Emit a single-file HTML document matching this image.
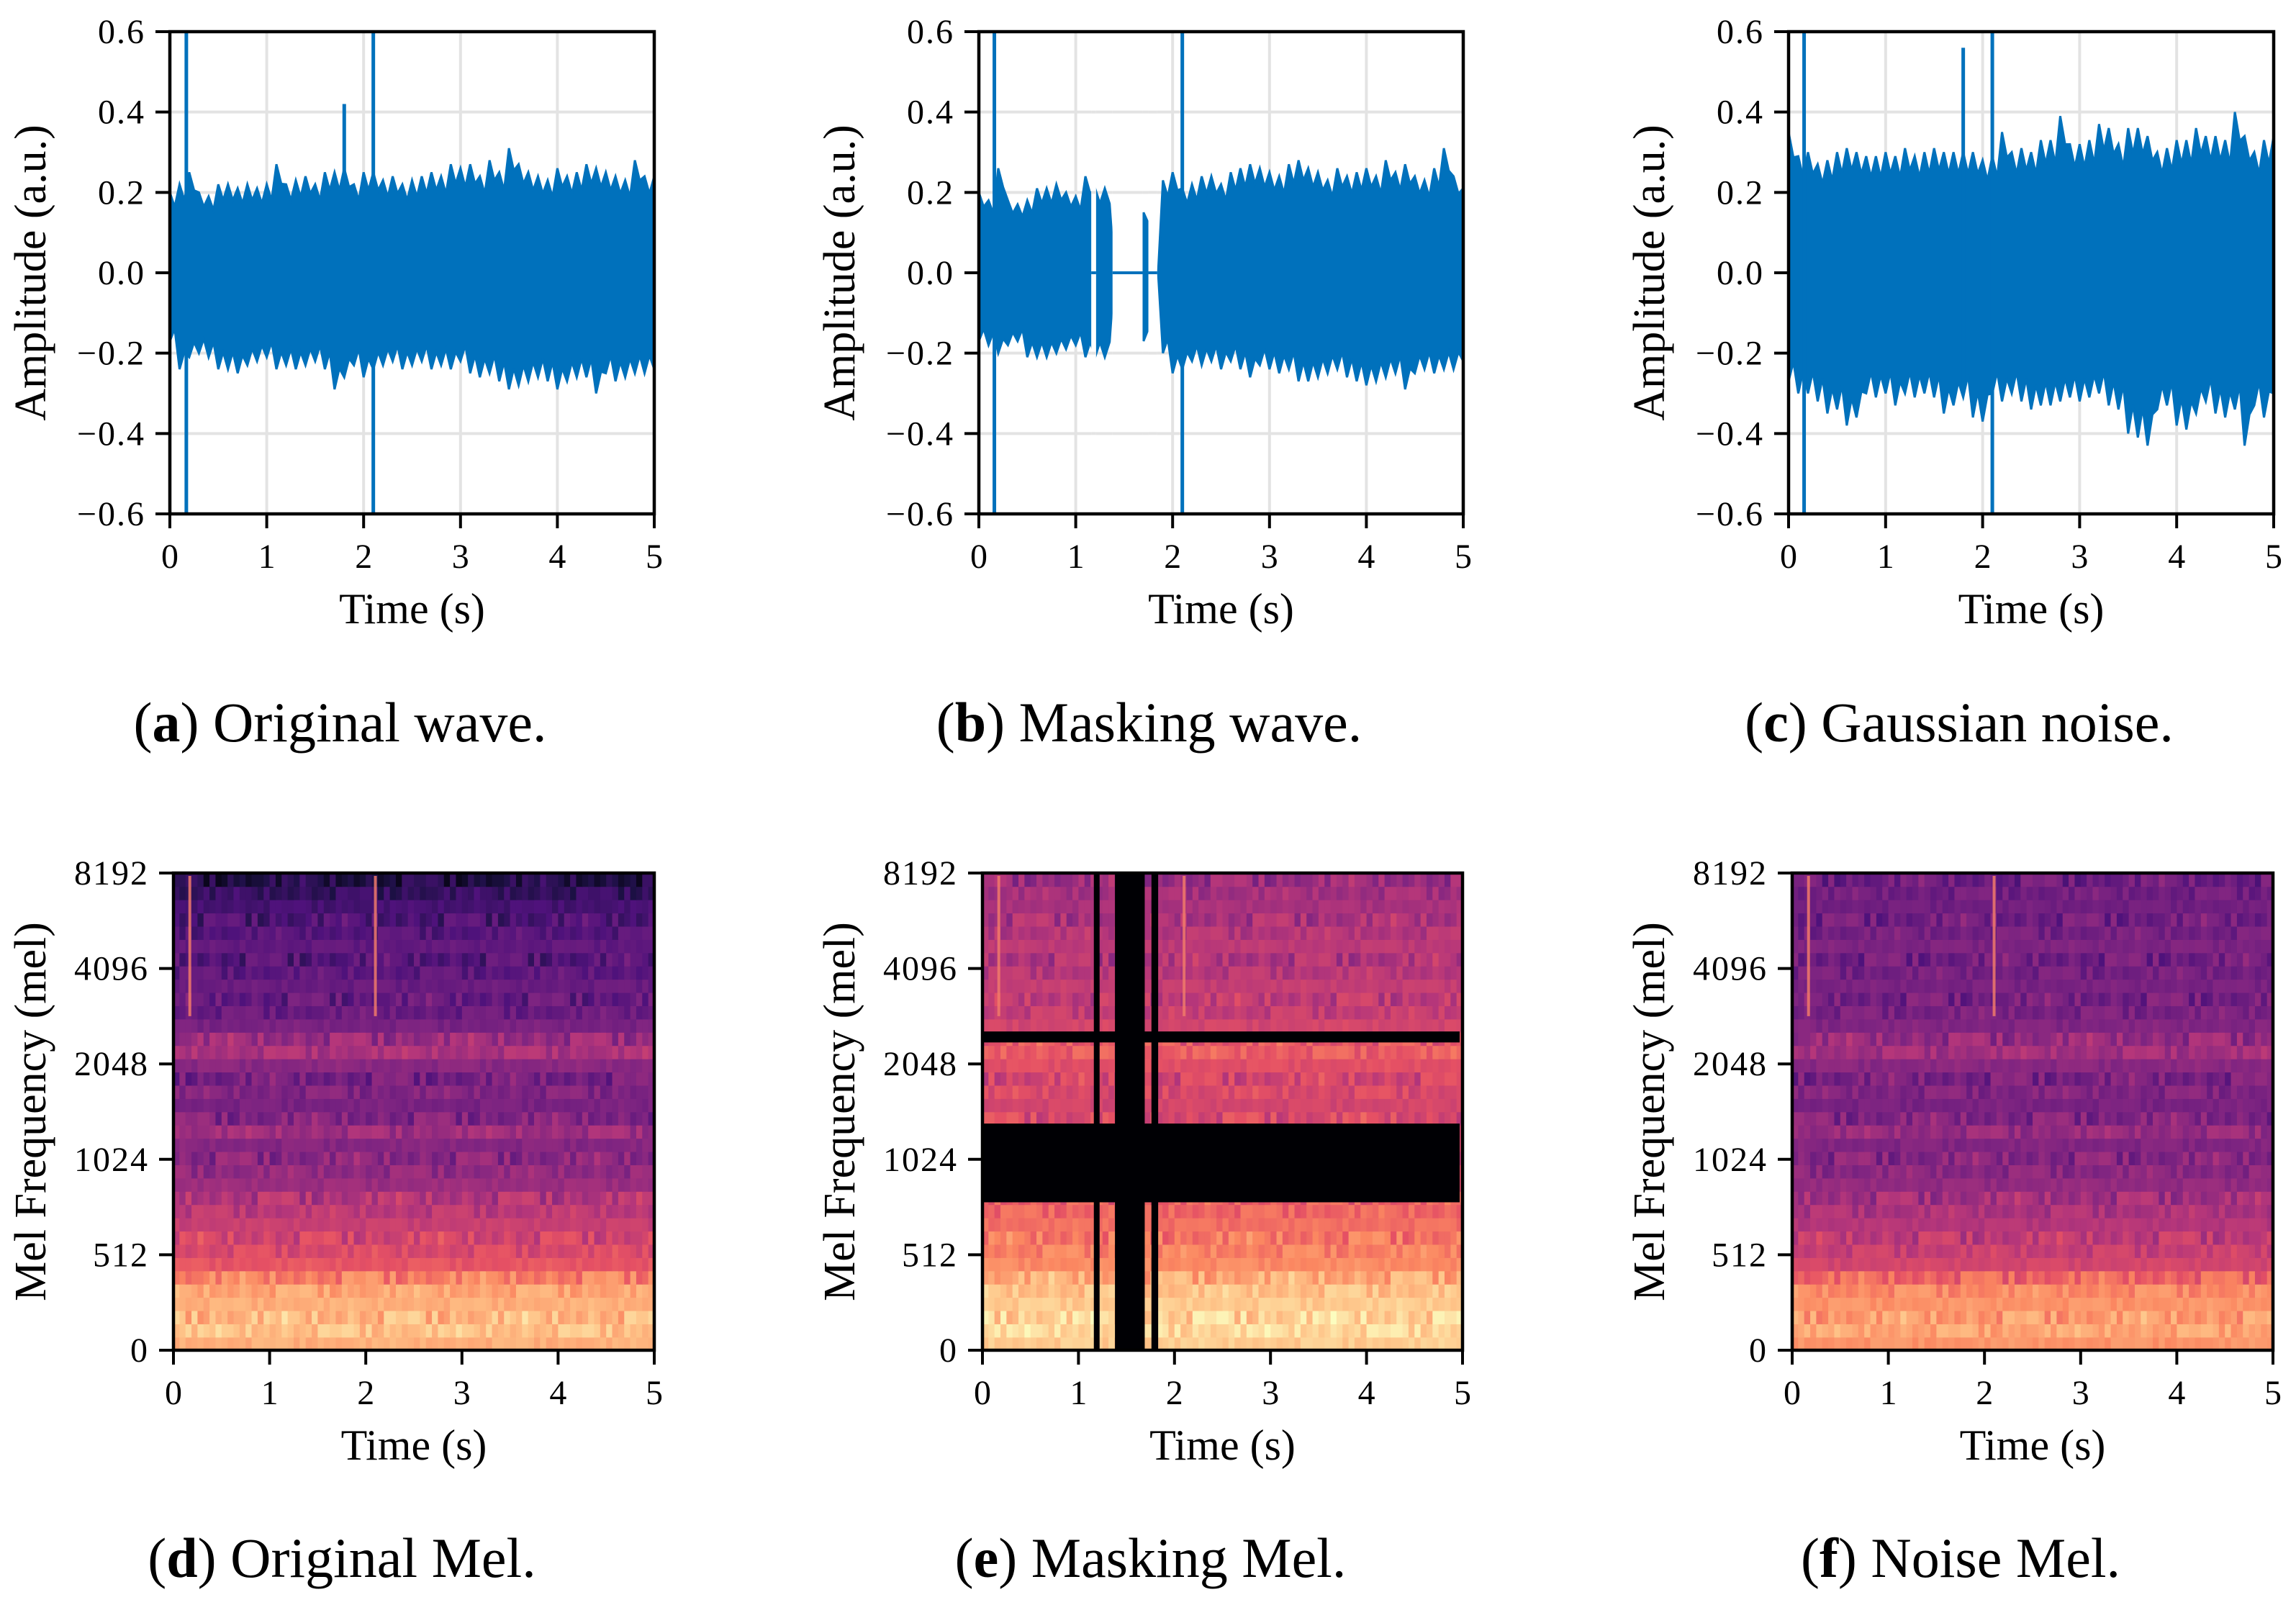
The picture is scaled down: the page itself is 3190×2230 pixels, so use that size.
<!DOCTYPE html>
<html><head><meta charset="utf-8"><style>
html,body{margin:0;padding:0;background:#fff;}
svg{display:block;font-family:"Liberation Serif",serif;}
</style></head><body>
<svg id="fig" width="3190" height="2230" viewBox="0 0 3190 2230" xmlns="http://www.w3.org/2000/svg"></svg>
<script>
// ---------- data ----------
const timeTicks = [0,1,2,3,4,5];
const ampTicks = [-0.6,-0.4,-0.2,0.0,0.2,0.4,0.6];
const ampTickLabels = ["\u22120.6","\u22120.4","\u22120.2","0.0","0.2","0.4","0.6"];
const melTickLabels = ["0","512","1024","2048","4096","8192"];
const envTimes = [0,0.1,0.2,0.3,0.4,0.5,0.6,0.7,0.8,0.9,1.0,1.1,1.2,1.3,1.4,1.5,1.6,1.7,1.8,1.9,2.0,2.1,2.2,2.3,2.4,2.5,2.6,2.7,2.8,2.9,3.0,3.1,3.2,3.3,3.4,3.5,3.6,3.7,3.8,3.9,4.0,4.1,4.2,4.3,4.4,4.5,4.6,4.7,4.8,4.9,5.0];
const waveAUpper = [0.2,0.22,0.25,0.2,0.19,0.22,0.22,0.21,0.22,0.21,0.22,0.27,0.22,0.23,0.24,0.22,0.25,0.25,0.26,0.22,0.25,0.25,0.23,0.24,0.22,0.23,0.24,0.25,0.24,0.27,0.26,0.27,0.24,0.28,0.25,0.31,0.27,0.25,0.24,0.23,0.26,0.24,0.25,0.27,0.26,0.25,0.24,0.23,0.28,0.24,0.24];
const waveALower = [-0.17,-0.24,-0.21,-0.2,-0.21,-0.24,-0.24,-0.25,-0.23,-0.22,-0.21,-0.24,-0.23,-0.24,-0.23,-0.22,-0.24,-0.29,-0.26,-0.23,-0.26,-0.24,-0.23,-0.22,-0.24,-0.23,-0.22,-0.24,-0.23,-0.24,-0.22,-0.25,-0.26,-0.25,-0.27,-0.29,-0.28,-0.27,-0.26,-0.27,-0.29,-0.27,-0.26,-0.26,-0.3,-0.25,-0.27,-0.26,-0.25,-0.25,-0.24];
const waveBUpper = [0.2,0.18,0.26,0.18,0.17,0.18,0.21,0.21,0.22,0.2,0.19,0.24,0.21,0.21,0.0,0.0,0.0,0.15,0.0,0.23,0.25,0.21,0.22,0.24,0.24,0.22,0.25,0.26,0.27,0.26,0.25,0.24,0.27,0.28,0.26,0.25,0.23,0.26,0.24,0.25,0.26,0.24,0.28,0.25,0.27,0.24,0.23,0.26,0.31,0.24,0.21];
const waveBLower = [-0.17,-0.18,-0.2,-0.18,-0.17,-0.21,-0.21,-0.21,-0.2,-0.19,-0.18,-0.21,-0.21,-0.21,0.0,0.0,0.0,-0.17,0.0,-0.2,-0.25,-0.24,-0.22,-0.23,-0.22,-0.24,-0.22,-0.24,-0.26,-0.23,-0.24,-0.25,-0.24,-0.27,-0.27,-0.26,-0.25,-0.24,-0.26,-0.27,-0.28,-0.27,-0.26,-0.25,-0.29,-0.25,-0.24,-0.25,-0.24,-0.24,-0.22];
const waveCUpper = [0.35,0.29,0.3,0.27,0.28,0.3,0.31,0.3,0.29,0.29,0.3,0.29,0.31,0.29,0.3,0.31,0.3,0.3,0.3,0.3,0.28,0.29,0.35,0.3,0.31,0.3,0.33,0.33,0.39,0.32,0.32,0.33,0.37,0.36,0.32,0.36,0.36,0.34,0.3,0.31,0.33,0.33,0.36,0.34,0.34,0.33,0.4,0.34,0.3,0.33,0.34];
const waveCLower = [-0.27,-0.3,-0.3,-0.32,-0.35,-0.34,-0.38,-0.36,-0.3,-0.31,-0.3,-0.33,-0.3,-0.31,-0.3,-0.31,-0.35,-0.33,-0.31,-0.36,-0.37,-0.3,-0.32,-0.3,-0.32,-0.34,-0.33,-0.33,-0.32,-0.31,-0.32,-0.31,-0.3,-0.33,-0.34,-0.4,-0.41,-0.43,-0.34,-0.33,-0.38,-0.39,-0.35,-0.32,-0.35,-0.36,-0.34,-0.43,-0.33,-0.36,-0.3];
const spikeATimes = [0.17,1.8,2.1];
const spikeATop = [0.6,0.42,0.6];
const spikeABottom = [-0.6,-0.2,-0.6];
const spikeBTimes = [0.16,2.1];
const spikeBTop = [0.6,0.6];
const spikeBBottom = [-0.6,-0.6];
const spikeCTimes = [0.16,1.8,2.1];
const spikeCTop = [0.6,0.56,0.6];
const spikeCBottom = [-0.6,-0.3,-0.6];
const waveBMaskStart = [1.16,1.38,1.75];
const waveBMaskEnd = [1.21,1.69,1.84];
// mel spectrogram: band intensity (0..1), listed bottom -> top
const melDRows = [0.84,0.88,0.86,0.84,0.82,0.74,0.64,0.6,0.58,0.55,0.52,0.5,0.44,0.42,0.4,0.39,0.45,0.38,0.36,0.38,0.35,0.4,0.48,0.44,0.36,0.32,0.31,0.32,0.29,0.27,0.3,0.27,0.25,0.23,0.19,0.14];
const melERows = [0.9,0.93,0.92,0.9,0.88,0.83,0.76,0.74,0.72,0.7,0.68,0.66,0.62,0.6,0.6,0.58,0.62,0.6,0.58,0.6,0.58,0.62,0.66,0.64,0.58,0.54,0.53,0.54,0.51,0.49,0.52,0.5,0.48,0.47,0.46,0.44];
const melFRows = [0.78,0.82,0.8,0.78,0.76,0.68,0.58,0.55,0.53,0.5,0.48,0.46,0.42,0.4,0.39,0.38,0.43,0.38,0.36,0.38,0.36,0.4,0.46,0.43,0.38,0.36,0.35,0.36,0.35,0.34,0.37,0.35,0.34,0.34,0.34,0.33];
const melColMod = [0.02,-0.02,0.01,-0.01,0.03,0.0,-0.02,0.02,-0.01,0.01,0.0,0.02,-0.03,0.01,0.02,-0.01,0.0,0.02,-0.02,0.01,0.03,-0.01,0.0,-0.02,0.02,0.01,-0.01,0.02,0.0,-0.02,0.01,0.02,-0.01,0.0,0.03,-0.02,0.01,0.0,-0.01,0.02];
const melStreakTimes = [0.17,2.1];
const melEMaskTStart = [1.16,1.38,1.76];
const melEMaskTEnd = [1.22,1.69,1.83];
const melEMaskFStart = [0.31,0.645];  // fraction of axis height from bottom
const melEMaskFEnd = [0.475,0.668];

// ---------- helpers ----------
const NS = "http://www.w3.org/2000/svg";
const svg = document.getElementById('fig');
function mk(tag, attrs, parent){
  const e = document.createElementNS(NS, tag);
  for (const k in attrs) e.setAttribute(k, attrs[k]);
  (parent||svg).appendChild(e);
  return e;
}
const magmaStops = [[0,0,0,4],[0.13,28,16,68],[0.25,79,18,123],[0.38,129,37,129],[0.5,181,54,122],[0.63,229,80,100],[0.75,251,135,97],[0.88,254,194,135],[1,252,253,191]];
function magma(v){
  v = Math.max(0, Math.min(1, v));
  for (let i=1;i<magmaStops.length;i++){
    const a=magmaStops[i-1], b=magmaStops[i];
    if (v<=b[0]){
      const t=(v-a[0])/(b[0]-a[0]);
      return `rgb(${Math.round(a[1]+t*(b[1]-a[1]))},${Math.round(a[2]+t*(b[2]-a[2]))},${Math.round(a[3]+t*(b[3]-a[3]))})`;
    }
  }
  return 'rgb(252,253,191)';
}

function axesFrame(g, x0, x1, y0, y1, name){
  const r = mk('rect', {x:x0, y:y0, width:x1-x0, height:y1-y0, fill:'none', stroke:'#000', 'stroke-width':4.5}, g);
  
  
}
function xAxis(g, xs, y1, name){
  timeTicks.forEach((t,i)=>{
    const x = xs(t);
    const tk = mk('line', {x1:x, x2:x, y1:y1, y2:y1+20, stroke:'#000', 'stroke-width':4}, g);
    
    
    const tl = mk('text', {x:x, y:y1+75, 'font-size':48, 'text-anchor':'middle', fill:'#000'}, g);
    tl.textContent = String(t);
    
    
  });
}
function caption(g, cx, y, letter, rest, name){
  const c = mk('text', {x:cx, y:y, 'font-size':78, 'text-anchor':'middle', fill:'#000', 'font-family':'"Liberation Serif", serif'}, g);
  
  
  const s1 = mk('tspan', {}, c); s1.textContent = '(';
  const s2 = mk('tspan', {'font-weight':'bold'}, c); s2.textContent = letter;
  const s3 = mk('tspan', {}, c); s3.textContent = ') ' + rest;
}
function label(g, x, y, txt, rot, name, size){
  const t = mk('text', {x:x, y:y, 'font-size':size, 'text-anchor':'middle', fill:'#000'}, g);
  if (rot) t.setAttribute('transform', `rotate(-90 ${x} ${y})`);
  t.textContent = txt;
  
  
}
function yTickLabel(g, x, y, txt, name){
  const tl = mk('text', {x:x, y:y+16, 'font-size':48, 'text-anchor':'end', fill:'#000', 'letter-spacing':2}, g);
  tl.textContent = txt;
  
  
}

// ---------- waveform panels ----------
function wavePanel(opt){
  const {x0,x1,y0,y1,upper,lower,sT,sTop,sBot,maskS,maskE,name,letter,title} = opt;
  const g = mk('g', {});
  
  
  const xs = t => x0 + (t/5)*(x1-x0);
  const ys = v => y1 - ((v+0.6)/1.2)*(y1-y0);
  timeTicks.forEach(t=>{
    const l = mk('line', {x1:xs(t), x2:xs(t), y1:y0, y2:y1, stroke:'#e3e3e3', 'stroke-width':4}, g);
    
    
  });
  ampTicks.forEach(v=>{
    const l = mk('line', {x1:x0, x2:x1, y1:ys(v), y2:ys(v), stroke:'#e3e3e3', 'stroke-width':4}, g);
    
    
  });
  let pts = [];
  envTimes.forEach((t,i)=>{ pts.push(`${xs(t)},${ys(upper[i])}`); if(i<envTimes.length-1) pts.push(`${xs(t+0.05)},${ys(upper[i]*0.82)}`); });
  for (let i=envTimes.length-1;i>=0;i--){ if(i<envTimes.length-1) pts.push(`${xs(envTimes[i]+0.05)},${ys(lower[i]*0.82)}`); pts.push(`${xs(envTimes[i])},${ys(lower[i])}`); }
  const env = mk('polygon', {points:pts.join(' '), fill:'#0071bc', stroke:'#0071bc', 'stroke-width':3, 'stroke-linejoin':'miter'}, g);
  
  
  if (maskS){
    maskS.forEach((s,i)=>{
      const m = mk('rect', {x:xs(s), y:y0+3, width:xs(maskE[i])-xs(s), height:y1-y0-6, fill:'#fff'}, g);
      
      
      ampTicks.forEach(v=>{ if (v!==0){ const gl = mk('line', {x1:xs(s), x2:xs(maskE[i]), y1:ys(v), y2:ys(v), stroke:'#e3e3e3', 'stroke-width':4}, g);
        
         }});
      const z = mk('line', {x1:xs(s), x2:xs(maskE[i]), y1:ys(0), y2:ys(0), stroke:'#0071bc', 'stroke-width':4}, g);
      
      
    });
  }
  sT.forEach((t,i)=>{
    const s = mk('line', {x1:xs(t), x2:xs(t), y1:ys(sTop[i]), y2:ys(sBot[i]), stroke:'#0071bc', 'stroke-width':5}, g);
    
    
  });
  axesFrame(g, x0, x1, y0, y1, name);
  ampTicks.forEach((v,i)=>{
    const tk = mk('line', {x1:x0-20, x2:x0, y1:ys(v), y2:ys(v), stroke:'#000', 'stroke-width':4}, g);
    
    
    yTickLabel(g, x0-34, ys(v), ampTickLabels[i], name);
  });
  xAxis(g, xs, y1, name);
  label(g, (x0+x1)/2, y1+152, 'Time (s)', false, name + '-x-axis-title', 60);
  label(g, x0-173, (y0+y1)/2, 'Amplitude (a.u.)', true, name + '-y-axis-title', 62);
  caption(g, (x0+x1)/2 - 100, 1030, letter, title, name);
}

// ---------- mel panels ----------
function melPanel(opt){
  const {x0,x1,y0,y1,rows,name,letter,title,mTS,mTE,mFS,mFE,streakStrength} = opt;
  const g = mk('g', {});
  
  
  const xs = t => x0 + (t/5)*(x1-x0);
  const yf = f => y1 - f*(y1-y0);
  const nR = rows.length, nC = melColMod.length*2;
  const rh = (y1-y0)/nR, cw = (x1-x0)/nC;
  rows.forEach((v,ri)=>{
    for (let ci=0; ci<nC; ci++){
      const m = melColMod[(ci*7+ri*3)%melColMod.length];
      const mod = m * (1 + (ri%3)) * ((ci+ri)%2 ? 1 : -1);
      const c = mk('rect', {x:x0+ci*cw, y:y1-(ri+1)*rh, width:cw+0.8, height:rh+0.8, fill:magma(v+mod)}, g);
      
      
    }
  });
  melStreakTimes.forEach(t=>{
    const s = mk('line', {x1:xs(t), x2:xs(t), y1:y0+4, y2:yf(streakStrength), stroke:'#f07a6a', 'stroke-width':4, opacity:0.85}, g);
    
    
  });
  if (mFS){
    mFS.forEach((f,i)=>{
      const m = mk('rect', {x:x0, y:yf(mFE[i]), width:xs(4.97)-x0, height:yf(f)-yf(mFE[i]), fill:'#000004'}, g);
      
      
    });
    mTS.forEach((s,i)=>{
      const m = mk('rect', {x:xs(s), y:y0, width:xs(mTE[i])-xs(s), height:y1-y0, fill:'#000004'}, g);
      
      
    });
  }
  axesFrame(g, x0, x1, y0, y1, name);
  melTickLabels.forEach((lab,i)=>{
    const y = yf(i/(melTickLabels.length-1));
    const tk = mk('line', {x1:x0-20, x2:x0, y1:y, y2:y, stroke:'#000', 'stroke-width':4}, g);
    
    
    yTickLabel(g, x0-34, y, lab, name);
  });
  xAxis(g, xs, y1, name);
  label(g, (x0+x1)/2, y1+152, 'Time (s)', false, name + '-x-axis-title', 60);
  label(g, x0-178, (y0+y1)/2, 'Mel Frequency (mel)', true, name + '-y-axis-title', 62);
  caption(g, (x0+x1)/2 - 100, 2191, letter, title, name);
}

wavePanel({x0:236,x1:909,y0:44,y1:714,upper:waveAUpper,lower:waveALower,sT:spikeATimes,sTop:spikeATop,sBot:spikeABottom,name:'panel-a-original-wave',letter:'a',title:'Original wave.'});
wavePanel({x0:1360,x1:2033,y0:44,y1:714,upper:waveBUpper,lower:waveBLower,sT:spikeBTimes,sTop:spikeBTop,sBot:spikeBBottom,maskS:waveBMaskStart,maskE:waveBMaskEnd,name:'panel-b-masking-wave',letter:'b',title:'Masking wave.'});
wavePanel({x0:2485,x1:3159,y0:44,y1:714,upper:waveCUpper,lower:waveCLower,sT:spikeCTimes,sTop:spikeCTop,sBot:spikeCBottom,name:'panel-c-gaussian-noise',letter:'c',title:'Gaussian noise.'});

melPanel({x0:241,x1:909,y0:1213,y1:1876,rows:melDRows,name:'panel-d-original-mel',letter:'d',title:'Original Mel.',streakStrength:0.7});
melPanel({x0:1365,x1:2032,y0:1213,y1:1876,rows:melERows,name:'panel-e-masking-mel',letter:'e',title:'Masking Mel.',mTS:melEMaskTStart,mTE:melEMaskTEnd,mFS:melEMaskFStart,mFE:melEMaskFEnd,streakStrength:0.7});
melPanel({x0:2490,x1:3158,y0:1213,y1:1876,rows:melFRows,name:'panel-f-noise-mel',letter:'f',title:'Noise Mel.',streakStrength:0.7});
</script>
</body></html>
